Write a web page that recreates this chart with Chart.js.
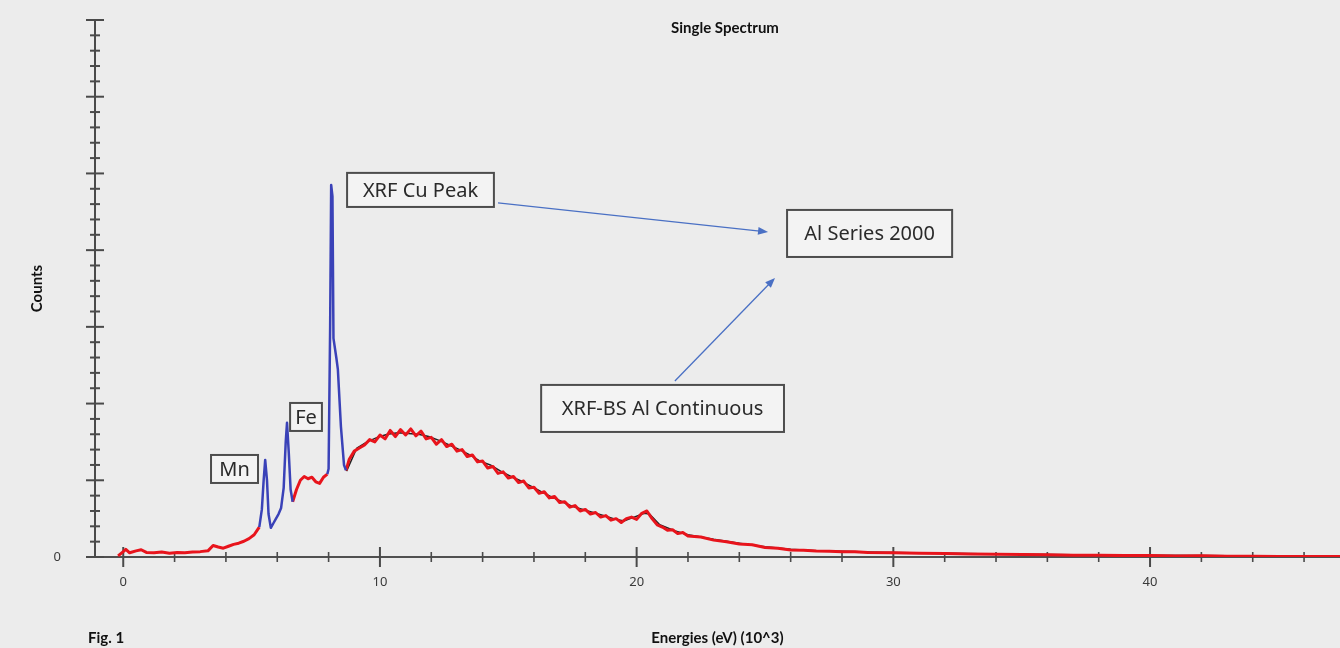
<!DOCTYPE html>
<html lang="en">
<head>
<meta charset="UTF-8">
<title>Single Spectrum</title>
<script src="https://cdn.jsdelivr.net/npm/chart.js"></script>
<style>
  html, body { margin: 0; padding: 0; background: #ececec; }
  #wrap { width: 1340px; height: 648px; position: relative; }
</style>
</head>
<body>
<div id="wrap"><canvas id="spectrum"></canvas></div>
<script>
// energies in keV (10^3 eV), counts in the plot's own units (0 - 7000)
const redEnergy = [-0.2, 0, 0.1, 0.25, 0.5, 0.7, 0.9, 1.2, 1.5, 1.8, 2.1, 2.4, 2.7, 3.0, 3.3, 3.5, 3.7, 3.9, 4.1, 4.3, 4.5, 4.7, 4.9, 5.1, 5.3,
  5.9,
  6.6, 6.75, 6.9, 7.05, 7.2, 7.35, 7.5, 7.65, 7.8, 7.95,
  8.3,
  8.68, 8.8, 9.0, 9.2, 9.4, 9.6, 9.8, 10.0, 10.2, 10.4, 10.6, 10.8, 11.0, 11.2, 11.4, 11.6, 11.8, 12.0, 12.2, 12.4, 12.6, 12.8,
  13.0, 13.2, 13.4, 13.6, 13.8, 14.0, 14.2, 14.4, 14.6, 14.8, 15.0, 15.2, 15.4, 15.6, 15.8, 16.0, 16.2, 16.4, 16.6, 16.8,
  17.0, 17.2, 17.4, 17.6, 17.8, 18.0, 18.2, 18.4, 18.6, 18.8, 19.0, 19.2, 19.4, 19.6, 19.8, 20.0, 20.2, 20.4, 20.6, 20.8,
  21.0, 21.2, 21.4, 21.6, 21.8, 22.0, 22.5, 23.0, 23.5, 24.0, 24.5, 25.0, 25.5, 26.0, 26.5, 27.0, 27.5, 28.0, 28.5, 29.0,
  30, 31, 32, 33, 34, 35, 36, 37, 38, 39, 40, 41, 42, 43, 44, 45, 46, 47.4];
const redCounts = [15, 70, 100, 55, 80, 95, 60, 55, 65, 50, 60, 55, 65, 70, 80, 150, 130, 115, 140, 165, 180, 205, 240, 290, 390,
  null,
  720, 880, 1000, 1050, 1020, 1040, 980, 960, 1040, 1080,
  null,
  1130, 1270, 1380, 1420, 1460, 1530, 1500, 1590, 1540, 1650, 1570, 1660, 1590, 1670, 1580, 1640, 1540, 1560, 1470, 1530, 1440, 1470,
  1380, 1400, 1310, 1330, 1240, 1250, 1160, 1180, 1090, 1110, 1030, 1050, 970, 990, 900, 910, 830, 850, 770, 790,
  710, 720, 650, 670, 600, 620, 560, 580, 520, 540, 480, 500, 450, 500, 520, 490, 570, 600, 500, 420,
  390, 350, 355, 305, 320, 275, 260, 220, 200, 170, 160, 125, 115, 92, 88, 78, 76, 70, 70, 60,
  56, 48, 46, 38, 37, 31, 30, 24, 23, 18, 19, 14, 15, 11, 11, 8, 7, 5];

const blackEnergy = [8.7, 9.1, 9.5, 9.9, 10.3, 10.7, 11.1, 11.5, 11.9, 12.3, 12.7, 13.1, 13.5, 13.9, 14.3, 14.7, 15.1, 15.5, 15.9,
  16.3, 16.7, 17.1, 17.5, 17.9, 18.3, 18.7, 19.1, 19.5, 19.9, 20.3, 20.5, 20.9, 21.5, 22, 23, 24, 25, 26, 27, 28, 29, 30,
  32, 34, 36, 38, 40, 42, 44, 46, 47.4];
const blackCounts = [1120, 1420, 1500, 1560, 1600, 1620, 1610, 1600, 1570, 1520, 1460, 1400, 1330, 1250, 1200, 1120, 1050, 990, 920,
  850, 780, 720, 660, 620, 580, 540, 500, 470, 520, 570, 560, 420, 340, 290, 230, 180, 135, 100, 82, 74, 64, 58,
  48, 40, 33, 27, 22, 18, 14, 10, 8];

const blueEnergy = [5.3, 5.4, 5.47, 5.53, 5.6, 5.66, 5.75, 5.85, 5.95, 6.05, 6.15, 6.25, 6.33, 6.38, 6.45, 6.52, 6.6,
  7.3,
  7.95, 8.0, 8.06, 8.1, 8.15, 8.19, 8.3, 8.36, 8.48, 8.6, 8.68];
const blueCounts = [390, 620, 1000, 1265, 1000, 560, 380, 440, 500, 560, 640, 900, 1500, 1750, 1350, 880, 720,
  null,
  1080, 1150, 3000, 4850, 4700, 2850, 2600, 2450, 1700, 1200, 1130];

const xTicks = [0, 2, 4, 6, 8, 10, 12, 14, 16, 18, 20, 22, 24, 26, 28, 30, 32, 34, 36, 38, 40, 42, 44, 46];
const xTickLabels = ['0', '10', '20', '30', '40'];
const yTicks = Array.from({length: 36}, (_, i) => i * 200);
const yTickLabels = ['0'];

const notes = [
  {text: 'Mn', x0: 3.42, x1: 5.25, y0: 965, y1: 1330},
  {text: 'Fe', x0: 6.5, x1: 7.74, y0: 1643, y1: 2008},
  {text: 'XRF Cu Peak', x0: 8.72, x1: 14.44, y0: 4563, y1: 5007},
  {text: 'Al Series 2000', x0: 25.86, x1: 32.29, y0: 3911, y1: 4524},
  {text: 'XRF-BS Al Continuous', x0: 16.28, x1: 25.74, y0: 1630, y1: 2243}
];
const arrows = [
  {from: [14.6, 4615], to: [25.12, 4237]},
  {from: [21.49, 2295], to: [25.39, 3638]}
];

function pts(xs, ys) {
  return xs.map((x, i) => ({x: x, y: ys[i]}));
}

const decorations = {
  id: 'decorations',
  beforeDatasetsDraw(chart) {
    const {ctx, scales: {x, y}} = chart;
    const x0 = x.getPixelForValue(-1.1);
    const y0 = y.getPixelForValue(0);
    ctx.save();
    ctx.strokeStyle = '#4a4a4a';
    // ticks crossing the axis lines
    x.ticks.forEach(t => {
      const px = x.getPixelForValue(t.value);
      const len = t.value % 10 === 0 ? 10 : 5;
      ctx.lineWidth = t.value % 10 === 0 ? 2 : 1.6;
      ctx.beginPath();
      ctx.moveTo(px, y0 - len);
      ctx.lineTo(px, y0 + len);
      ctx.stroke();
    });
    y.ticks.forEach(t => {
      const py = y.getPixelForValue(t.value);
      const len = t.value % 1000 === 0 ? 9 : 5;
      ctx.lineWidth = 2;
      ctx.beginPath();
      ctx.moveTo(x0 - len, py);
      ctx.lineTo(x0 + len, py);
      ctx.stroke();
    });
    ctx.restore();
  },
  afterDraw(chart) {
    const {ctx, scales: {x, y}} = chart;
    ctx.save();
    ctx.fillStyle = '#111';
    ctx.textBaseline = 'middle';
    ctx.font = 'bold 15px Lato';
    ctx.textAlign = 'center';
    ctx.fillText('Single Spectrum', 725, 28);
    ctx.textAlign = 'left';
    ctx.fillText('Fig. 1', 88, 638);

    // arrows
    ctx.strokeStyle = '#4a70c4';
    ctx.fillStyle = '#4a70c4';
    ctx.lineWidth = 1.3;
    arrows.forEach(a => {
      const ax = x.getPixelForValue(a.from[0]), ay = y.getPixelForValue(a.from[1]);
      const bx = x.getPixelForValue(a.to[0]), by = y.getPixelForValue(a.to[1]);
      const ang = Math.atan2(by - ay, bx - ax);
      ctx.beginPath();
      ctx.moveTo(ax, ay);
      ctx.lineTo(bx - 6 * Math.cos(ang), by - 6 * Math.sin(ang));
      ctx.stroke();
      ctx.beginPath();
      ctx.moveTo(bx, by);
      ctx.lineTo(bx - 10 * Math.cos(ang) + 4 * Math.sin(ang), by - 10 * Math.sin(ang) - 4 * Math.cos(ang));
      ctx.lineTo(bx - 10 * Math.cos(ang) - 4 * Math.sin(ang), by - 10 * Math.sin(ang) + 4 * Math.cos(ang));
      ctx.closePath();
      ctx.fill();
    });

    // labelled boxes
    ctx.font = '20px "Noto Sans"';
    ctx.textAlign = 'center';
    notes.forEach(n => {
      const l = x.getPixelForValue(n.x0), r = x.getPixelForValue(n.x1);
      const t = y.getPixelForValue(n.y1), b = y.getPixelForValue(n.y0);
      ctx.fillStyle = '#f3f3f3';
      ctx.fillRect(l, t, r - l, b - t);
      ctx.strokeStyle = '#4d4d4d';
      ctx.lineWidth = 2;
      ctx.strokeRect(l, t, r - l, b - t);
      ctx.fillStyle = '#2a2a2a';
      ctx.fillText(n.text, (l + r) / 2, (t + b) / 2 + 1);
    });
    ctx.restore();
  }
};

new Chart(document.getElementById('spectrum'), {
  type: 'line',
  data: {
    datasets: [
      {label: 'Peaks', data: pts(blueEnergy, blueCounts), borderColor: '#3a42b8', borderWidth: 2.5, spanGaps: false},
      {label: 'Spectrum', data: pts(redEnergy, redCounts), borderColor: '#e8141c', borderWidth: 3, spanGaps: false},
      {label: 'Reference', data: pts(blackEnergy, blackCounts), borderColor: '#222', borderWidth: 1.5}
    ]
  },
  options: {
    responsive: true,
    maintainAspectRatio: false,
    animation: false,
    layout: {padding: {top: 20, right: 0, bottom: 0, left: 0}},
    elements: {point: {radius: 0}, line: {tension: 0, borderJoinStyle: 'round'}},
    plugins: {legend: {display: false}, tooltip: {enabled: false}, title: {display: false}},
    scales: {
      x: {
        type: 'linear',
        min: -1.1,
        max: 47.4,
        afterBuildTicks: s => { s.ticks = xTicks.map(v => ({value: v})); },
        afterFit: s => { s.height = 91; s.paddingLeft = 0; s.paddingRight = 0; },
        grid: {display: false, drawTicks: false},
        border: {display: true, color: '#505050', width: 2},
        ticks: {
          autoSkip: false, maxRotation: 0, padding: 17, color: '#3a3a3a',
          font: {family: 'Noto Sans', size: 13},
          callback: v => (v % 10 === 0 ? xTickLabels[v / 10] : '')
        },
        title: {display: true, text: 'Energies (eV) (10^3)', color: '#111',
          font: {family: 'Lato', weight: 'bold', size: 15}, padding: {top: 0, bottom: 1}}
      },
      y: {
        min: 0,
        max: 7000,
        afterBuildTicks: s => { s.ticks = yTicks.map(v => ({value: v})); },
        afterFit: s => { s.width = 95; s.paddingTop = 0; s.paddingBottom = 0; },
        grid: {display: false, drawTicks: false},
        border: {display: true, color: '#4a4a4a', width: 2},
        ticks: {
          autoSkip: false, padding: 34, color: '#3a3a3a',
          font: {family: 'Noto Sans', size: 13},
          callback: v => (v === 0 ? yTickLabels[0] : '')
        },
        title: {display: true, text: 'Counts', color: '#111',
          font: {family: 'Lato', weight: 'bold', size: 15}, padding: {top: 28, bottom: 0}}
      }
    }
  },
  plugins: [decorations]
});
</script>
</body>
</html>
